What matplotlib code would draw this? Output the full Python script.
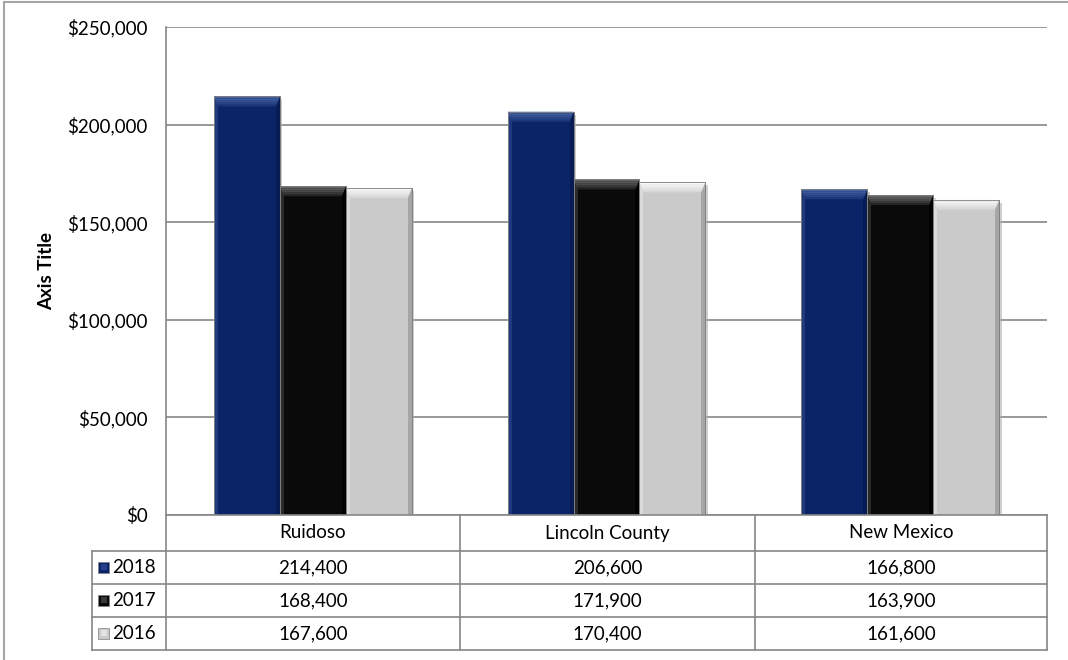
import matplotlib
matplotlib.use('agg')
import matplotlib.pyplot as plt
from matplotlib.patches import Polygon, Rectangle
import numpy as np

plt.rcParams['font.family'] = ['Lato', 'DejaVu Sans']

places = ['Ruidoso', 'Lincoln County', 'New Mexico']
years = ['2018', '2017', '2016']
values_2018 = [214400, 206600, 166800]
values_2017 = [168400, 171900, 163900]
values_2016 = [167600, 170400, 161600]
series = [values_2018, values_2017, values_2016]
y_ticks = [0, 50000, 100000, 150000, 200000, 250000]

# base, top bevel, side shade for each series
styles = {
    '2018': ('#0b2468', '#4563a2', '#061a4e'),
    '2017': ('#0a0a0a', '#666666', '#000000'),
    '2016': ('#cacaca', '#fafafa', '#9a9a9a'),
}

fs = 13.5
W, H = 1068, 660
fig = plt.figure(figsize=(W / 100, H / 100), dpi=100)

# pixel layout
px_l, px_r, px_t, px_b = 166, 1047, 27, 515
ax = fig.add_axes([px_l / W, 1 - px_b / H, (px_r - px_l) / W, (px_b - px_t) / H])
ax.set_xlim(-0.5, len(places) - 0.5)
ax.set_ylim(0, 250000)
ax.set_yticks(y_ticks)
ax.set_yticklabels(['${:,}'.format(v) for v in y_ticks], fontsize=fs)
ax.tick_params(axis='y', length=0, pad=13)
ax.set_xticks([])
for s in ['top', 'right', 'bottom']:
    ax.spines[s].set_visible(False)
ax.spines['left'].set_color('#868686')
ax.spines['left'].set_linewidth(1.2)
ax.grid(axis='y', color='#868686', linewidth=1.2)
ax.set_axisbelow(True)
ax.set_ylabel('Axis Title', fontsize=13.5, fontweight='bold', labelpad=8.5)

bw = 0.2245
x = np.arange(len(places))
dx = 3.0 / (px_r - px_l)         # data units per pixel, x
dy = 250000.0 / (px_b - px_t)    # data units per pixel, y
for i, (yr, vals) in enumerate(zip(years, series)):
    base, light, dark = styles[yr]
    bars = ax.bar(x + (i - 1) * bw, vals, width=bw, color=base, zorder=3,
                  edgecolor='#7f7f7f', linewidth=0.6)
    for b in bars:
        x0, x1 = b.get_x(), b.get_x() + b.get_width()
        top = b.get_height()
        by = 10 * dy
        sx = 4 * dx
        # soft shadow on the right
        ax.add_patch(Rectangle((x1, 0), 2.5 * dx, top - 3 * dy, color='#b0b0b0',
                               alpha=0.6, zorder=2, linewidth=0))
        # right bevel
        ax.add_patch(Polygon([(x1, top), (x1, 0), (x1 - sx, 0), (x1 - sx, top - by)],
                             closed=True, facecolor=dark, edgecolor='none', zorder=4, alpha=0.75))
        # left bevel
        ax.add_patch(Polygon([(x0, top), (x0, 0), (x0 + sx, 0), (x0 + sx, top - by)],
                             closed=True, facecolor=light, edgecolor='none', zorder=4, alpha=0.35))
        # top bevel, fading downwards
        for k, a in enumerate([1.0, 0.85, 0.7, 0.5, 0.3]):
            f0, f1 = k / 5, (k + 1) / 5
            ax.add_patch(Polygon([(x0 + sx * f0, top - by * f0), (x1 - sx * f0, top - by * f0),
                                  (x1 - sx * f1, top - by * f1), (x0 + sx * f1, top - by * f1)],
                                 closed=True, facecolor=light, edgecolor='none', zorder=5, alpha=a))
        ax.add_patch(Rectangle((x0, 0), x1 - x0, top, facecolor='none', edgecolor='#7f7f7f',
                               linewidth=0.6, zorder=6))

# overlay in pixel coordinates for the data table and chart border
ov = fig.add_axes([0, 0, 1, 1], zorder=5)
ov.set_xlim(0, W)
ov.set_ylim(H, 0)
ov.axis('off')
ov.patch.set_alpha(0)

grid_c = '#868686'
lw = 1.2
col_edges = [px_l, 460, 755, px_r]
row_edges = [px_b, 551, 584, 617, 650]
key_l = 92

ov.plot([4, 4], [2, H], color='#a6a6a6', lw=1.5)
ov.plot([4, W], [2, 2], color='#a6a6a6', lw=1.5)

ov.plot([px_l, px_r], [row_edges[0], row_edges[0]], color=grid_c, lw=lw)
for r in row_edges[1:]:
    ov.plot([key_l, px_r], [r, r], color=grid_c, lw=lw)
for c in col_edges:
    ov.plot([c, c], [row_edges[0], row_edges[-1]], color=grid_c, lw=lw)
ov.plot([key_l, key_l], [row_edges[1], row_edges[-1]], color=grid_c, lw=lw)

for j, name in enumerate(places):
    cx = (col_edges[j] + col_edges[j + 1]) / 2
    ov.text(cx, (row_edges[0] + row_edges[1]) / 2, name, ha='center', va='center', fontsize=fs)

for i, (yr, vals) in enumerate(zip(years, series)):
    cy = (row_edges[i + 1] + row_edges[i + 2]) / 2
    base, light, dark = styles[yr]
    ov.add_patch(Rectangle((98, cy - 6), 11, 11, facecolor=base, edgecolor='#7f7f7f', lw=0.5))
    ov.add_patch(Rectangle((100.5, cy - 3.5), 6, 6, facecolor=light, edgecolor='none', alpha=0.5))
    ov.text(112, cy, yr, ha='left', va='center', fontsize=fs)
    for j, v in enumerate(vals):
        cx = (col_edges[j] + col_edges[j + 1]) / 2
        ov.text(cx, cy, '{:,}'.format(v), ha='center', va='center', fontsize=fs)

fig.savefig('out.png', dpi=100)
